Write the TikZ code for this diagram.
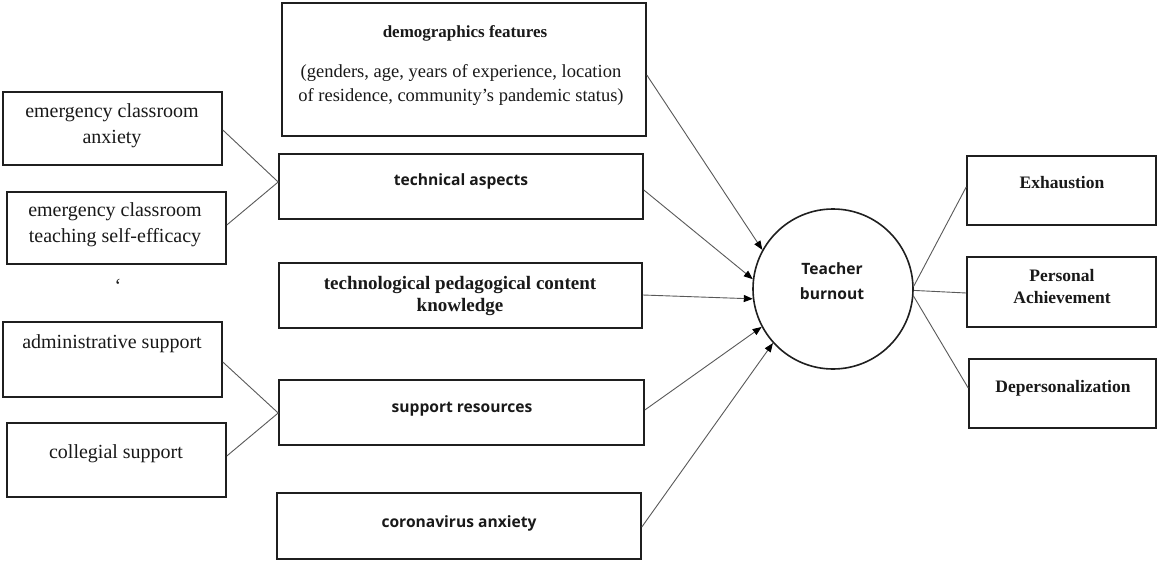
\documentclass[tikz,border=0pt]{standalone}
\usepackage{fontspec}
\setmainfont{Liberation Serif}
\newfontfamily\osans{Open Sans}
\usetikzlibrary{calc,arrows.meta}
\begin{document}
\begin{tikzpicture}[x=1pt,y=-1pt,
  box/.style={draw=black!88,line width=1.6pt,rectangle,inner sep=0pt},
  circ/.style={draw=black!88,line width=1.6pt,circle,inner sep=0pt,minimum size=160pt},
  lbl/.style={inner sep=0pt,align=center,text=black!90},
  ser/.style={font=\fontsize{20}{26}\selectfont},
  serb/.style={font=\fontsize{17.5}{22}\selectfont\bfseries},
  sans/.style={font=\fontsize{15.6}{25}\selectfont\osans\bfseries},
  link/.style={draw=black!65,line width=0.9pt},
  arr/.style={draw=black!65,line width=0.9pt,-{Triangle[length=9pt,width=7pt,color=black]}}]
\useasboundingbox[fill=white] (0,0) rectangle (1157,562);
% boxes
\node[box,minimum width=219pt,minimum height=73pt] (A) at (112.5,128.5) {};
\node[box,minimum width=219pt,minimum height=72pt] (B) at (116.5,228) {};
\node[box,minimum width=219pt,minimum height=75pt] (adm) at (112.5,359.5) {};
\node[box,minimum width=219pt,minimum height=74pt] (col) at (116.5,460) {};
\node[box,minimum width=364pt,minimum height=133pt] (demo) at (464,69.5) {};
\node[box,minimum width=364pt,minimum height=65pt] (tech) at (461,186.5) {};
\node[box,minimum width=363pt,minimum height=65pt] (tpck) at (460.5,295.5) {};
\node[box,minimum width=365pt,minimum height=65pt] (supp) at (461.5,412.5) {};
\node[box,minimum width=364pt,minimum height=66pt] (cor) at (459,526) {};
\node[circ] (tb) at (833,289) {};
\node[box,minimum width=189pt,minimum height=69pt] (exh) at (1061.5,190.5) {};
\node[box,minimum width=189pt,minimum height=70pt] (pa) at (1061.5,292) {};
\node[box,minimum width=187pt,minimum height=69pt] (dep) at (1062.5,393.5) {};
% texts
\node[lbl,ser] (tA) at (112,125.3) {emergency classroom\\anxiety};
\node[lbl,ser] (tB) at (115,224.8) {emergency classroom\\teaching self-efficacy};
\node[lbl,ser,anchor=base] (tadm) at (112,348) {administrative support};
\node[lbl,ser,anchor=base] (tcol) at (116,458) {collegial support};
\node[lbl,ser,anchor=base] (tick) at (118,292) {`};
\node[lbl,font=\fontsize{17}{22}\selectfont\bfseries,anchor=base] (tdemo) at (465,37.7) {demographics features};
\node[lbl,font=\fontsize{18.5}{24}\selectfont] (tdemo2) at (461,84.6) {(genders, age, years of experience, location\\of residence, community’s pandemic status)};
\node[lbl,sans,anchor=base] (ttech) at (461,185) {technical aspects};
\node[lbl,font=\fontsize{19}{22}\selectfont\bfseries] (ttpck) at (460,296.5) {technological pedagogical content\\knowledge};
\node[lbl,sans,anchor=base] (tsupp) at (462,412) {support resources};
\node[lbl,sans,anchor=base] (tcor) at (459,527) {coronavirus anxiety};
\node[lbl,sans] (ttb) at (832,281.6) {Teacher\\burnout};
\node[lbl,serb,anchor=base] (texh) at (1062,188) {Exhaustion};
\node[lbl,serb] (tpa) at (1062,286.1) {Personal\\Achievement};
\node[lbl,serb,anchor=base] (tdep) at (1063,392) {Depersonalization};
% connectors left
\draw[link] ($(A.east)+(0,1.5)$) -- ($(tech.west)+(0,-4.5)$) -- ($(B.east)+(0,-3)$);
\draw[link] ($(adm.east)+(0,2.5)$) -- ($(supp.west)+(0,0.5)$) -- ($(col.east)+(0,-4)$);
% arrows to teacher burnout
\draw[arr] ($(demo.east)+(0,5.5)$) -- (tb.151);
\draw[arr] ($(tech.east)+(0,3.5)$) -- (tb.173);
\draw[arr] ($(tpck.east)+(0,-0.5)$) -- (tb.187);
\draw[arr] ($(supp.east)+(0,-2.5)$) -- (tb.208);
\draw[arr] ($(cor.east)+(0,1)$) -- (tb.222);
% right
\draw[link] (tb.2) -- ($(exh.west)+(0,-3.5)$);
\draw[link] (tb.-1) -- ($(pa.west)+(0,1)$);
\draw[link] (tb.-5) -- ($(dep.west)+(0,-5.5)$);
\end{tikzpicture}
\end{document}
